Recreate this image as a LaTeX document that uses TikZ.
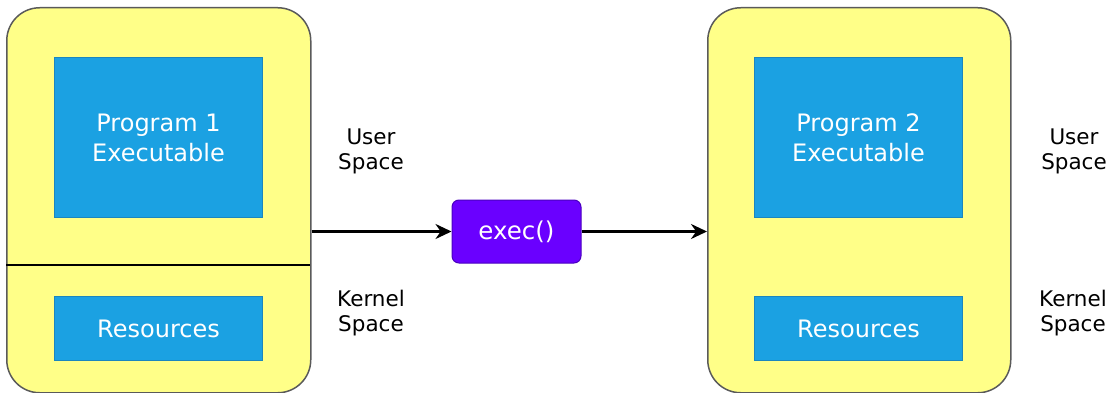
\documentclass[tikz,border=0pt]{standalone}
\usepackage{fontspec}
\setmainfont{DejaVu Sans}
\usetikzlibrary{arrows.meta}
\definecolor{cyel}{HTML}{FFFF88}
\definecolor{cyelb}{HTML}{5A5A5A}
\definecolor{cblue}{HTML}{1BA1E2}
\definecolor{cblueb}{HTML}{1B86BF}
\definecolor{cpur}{HTML}{6A00FF}
\definecolor{cpurb}{HTML}{4A00C0}
\tikzset{
  container/.style={draw=cyelb, fill=cyel, line width=1.5pt, rounded corners=33pt, anchor=north west, inner sep=0pt},
  bluebox/.style={draw=cblueb, fill=cblue, line width=1pt, anchor=north west, inner sep=0pt, text=white, align=center, font=\fontsize{24}{30}\selectfont},
  execbox/.style={draw=cpurb, fill=cpur, line width=1pt, rounded corners=7pt, inner sep=0pt, text=white, font=\fontsize{24.5}{28}\selectfont},
  spacelabel/.style={align=center, text=black, inner sep=0pt, font=\fontsize{21.5}{25}\selectfont},
  conn/.style={line width=2.5pt, -{Stealth[length=16pt,width=15pt]}}
}
\begin{document}
\begin{tikzpicture}[x=1pt,y=-1pt]
\clip (0,0) rectangle (1116,393);
\useasboundingbox (0,0) rectangle (1116,393);
% left container
\node[container, minimum width=304pt, minimum height=385pt] (lc) at (6,7) {};
\coordinate (divl) at (6,265);
\coordinate (divr) at (310,265);
\draw[line width=2.5pt, black] (divl) -- (divr);
\node[bluebox, minimum width=208pt, minimum height=160pt] (p1) at (54,57) {Program 1\\Executable};
\node[bluebox, minimum width=208pt, minimum height=64pt] (r1) at (54,296) {Resources};
% right container
\node[container, minimum width=303pt, minimum height=385pt] (rc) at (707,7) {};
\node[bluebox, minimum width=208pt, minimum height=160pt] (p2) at (754,57) {Program 2\\Executable};
\node[bluebox, minimum width=208pt, minimum height=64pt] (r2) at (754,296) {Resources};
% exec
\node[execbox, minimum width=129pt, minimum height=63pt] (ex) at (516.5,231.5) {exec()};
% labels
\node[spacelabel] (u1) at (371,151) {User\\Space};
\node[spacelabel] (k1) at (371,313) {Kernel\\Space};
\node[spacelabel] (u2) at (1074,151) {User\\Space};
\node[spacelabel] (k2) at (1073,313) {Kernel\\Space};
% arrows
\draw[conn] (ex.west -| lc.east) -- (ex.west);
\draw[conn] (ex.east) -- (ex.east -| rc.west);
\end{tikzpicture}
\end{document}
